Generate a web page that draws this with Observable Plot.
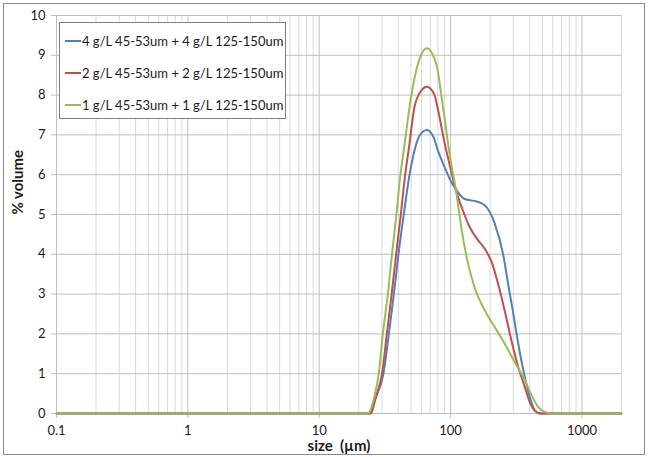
<!DOCTYPE html>
<html>
<head>
<meta charset="utf-8">
<script src="https://cdn.jsdelivr.net/npm/d3@7"></script>
<script src="https://cdn.jsdelivr.net/npm/@observablehq/plot@0.6"></script>
<style>
  html, body { margin: 0; padding: 0; background: #fff; }
  #wrap { position: relative; width: 649px; height: 457px; font-family: Lato, "Open Sans", sans-serif; }
  #frame { position: absolute; left: 3px; top: 3px; width: 640px; height: 450px; border: 1px solid #8c8c8c; pointer-events: none; }
  #legend { position: absolute; left: 59px; top: 22px; width: 227px; height: 97px; border: 1px solid #7f7f7f; background: #fff; box-sizing: border-box; }
  .row { position: absolute; left: 5px; height: 16px; display: flex; align-items: center; font-size: 13px; color: #1a1a1a; white-space: nowrap; }
  .sw { width: 16px; height: 2px; margin-right: 1px; }
</style>
</head>
<body>
<div id="wrap">
  <div id="chart"></div>
  <div id="legend"></div>
  <div id="frame"></div>
</div>
<script>
// Series names and colours
const seriesNames = [
  "4 g/L 45-53um + 4 g/L 125-150um",
  "2 g/L 45-53um + 2 g/L 125-150um",
  "1 g/L 45-53um + 1 g/L 125-150um"
];
const seriesColors = ["#4F81BD", "#C0504D", "#9BBB59"];

// Blue series (4 g/L)
const blueSize = [0.1, 20, 24, 27.1, 30.8, 33.9, 37, 40.1, 44, 48.7, 53.1, 58, 66, 74, 80, 90, 100, 110.5, 128, 152, 182, 217, 251, 274, 300, 327, 367, 400, 438, 480, 2000];
const blueVol  = [0, 0, 0, 0.42, 1.0, 2.0, 3.0, 4.0, 5.0, 6.0, 6.61, 6.98, 7.12, 6.95, 6.61, 6.19, 5.85, 5.62, 5.39, 5.34, 5.23, 4.77, 4.0, 3.26, 2.51, 1.76, 0.92, 0.42, 0.08, 0, 0];

// Red series (2 g/L)
const redSize = [0.1, 20, 24.8, 27, 30.1, 32.7, 35.6, 38.5, 41.8, 45.1, 47.9, 53.1, 59.7, 66, 75.5, 80, 90, 100, 110, 124, 140, 162, 182, 205, 230, 258, 290, 327, 367, 400, 438, 480, 2000];
const redVol  = [0, 0, 0, 0.42, 1.0, 2.0, 3.0, 4.0, 5.0, 6.0, 6.61, 7.7, 8.11, 8.21, 8.0, 7.65, 6.8, 6.15, 5.6, 5.1, 4.68, 4.35, 4.14, 3.81, 3.26, 2.59, 1.84, 1.17, 0.67, 0.29, 0.065, 0, 0];

// Green series (1 g/L)
const greenSize = [0.1, 20, 23.4, 26.3, 28.4, 30.5, 33.3, 35.8, 38.7, 41.5, 44, 50, 56.4, 66, 77.8, 87.5, 100, 110, 121, 136, 152, 182, 217, 258, 308, 367, 413, 465, 522, 590, 2000];
const greenVol  = [0, 0, 0, 0.42, 1.0, 2.0, 3.0, 4.0, 5.0, 6.0, 6.61, 7.95, 8.78, 9.18, 8.78, 7.7, 6.36, 5.6, 4.64, 3.76, 3.18, 2.59, 2.17, 1.76, 1.29, 0.84, 0.46, 0.16, 0.04, 0, 0];

// Axis ticks
const xTicks = [0.1, 1, 10, 100, 1000];
const xTickLabels = ["0.1", "1", "10", "100", "1000"];
const yTicks = [0, 1, 2, 3, 4, 5, 6, 7, 8, 9, 10];
const xLabel = "size  (µm)";
const yLabel = "% volume";

const xMax = 2000;
const minorTicks = [];
for (const d of xTicks) for (let m = 2; m <= 9; m++) if (d * m <= xMax) minorTicks.push(d * m);
minorTicks.push(xMax);

const sizes = [blueSize, redSize, greenSize];
const vols = [blueVol, redVol, greenVol];
const rows = [];
seriesNames.forEach((name, i) => sizes[i].forEach((s, j) => rows.push({series: name, size: s, vol: vols[i][j]})));

const chart = Plot.plot({
  width: 649,
  height: 457,
  marginLeft: 56,
  marginRight: 28,
  marginTop: 15,
  marginBottom: 44,
  style: {fontFamily: "Lato, 'Open Sans', sans-serif", fontSize: "13px", color: "#1a1a1a", background: "transparent"},
  x: {type: "log", domain: [0.1, xMax]},
  y: {domain: [0, 10]},
  color: {domain: seriesNames, range: seriesColors},
  marks: [
    Plot.ruleX(minorTicks, {x: d => d, stroke: "#d9d9d9", strokeWidth: 1, strokeOpacity: 1}),
    Plot.ruleY(yTicks, {y: d => d, stroke: "#bfbfbf", strokeWidth: 1, strokeOpacity: 1}),
    Plot.ruleX(xTicks, {x: d => d, stroke: "#bfbfbf", strokeWidth: 1, strokeOpacity: 1}),
    Plot.axisX(xTicks, {tickSize: 5, tickPadding: 7, stroke: "#bfbfbf", strokeOpacity: 1, label: null,
      tickFormat: d => xTickLabels[xTicks.indexOf(d)], fill: "#1a1a1a", fontSize: 13}),
    Plot.axisY(yTicks, {tickSize: 5, tickPadding: 6, stroke: "#bfbfbf", strokeOpacity: 1, label: null, fill: "#1a1a1a", fontSize: 13}),
    Plot.line(rows, {x: "size", y: "vol", z: "series", stroke: "series", strokeWidth: 2, curve: "monotone-x"}),
    Plot.text([xLabel], {frameAnchor: "bottom", dy: 37, fontWeight: "bold", fontSize: 15, fill: "#1a1a1a"}),
    Plot.text([yLabel], {frameAnchor: "left", dx: -38, rotate: -90, fontWeight: "bold", fontSize: 15, fill: "#1a1a1a"})
  ]
});
document.getElementById("chart").appendChild(chart);

const legend = document.getElementById("legend");
const rowTops = [10, 42, 74];
seriesNames.forEach((name, i) => {
  const r = document.createElement("div");
  r.className = "row";
  r.style.top = rowTops[i] + "px";
  const sw = document.createElement("span");
  sw.className = "sw";
  sw.style.background = seriesColors[i];
  r.appendChild(sw);
  const t = document.createElement("span");
  t.textContent = name;
  r.appendChild(t);
  legend.appendChild(r);
});
</script>
</body>
</html>
